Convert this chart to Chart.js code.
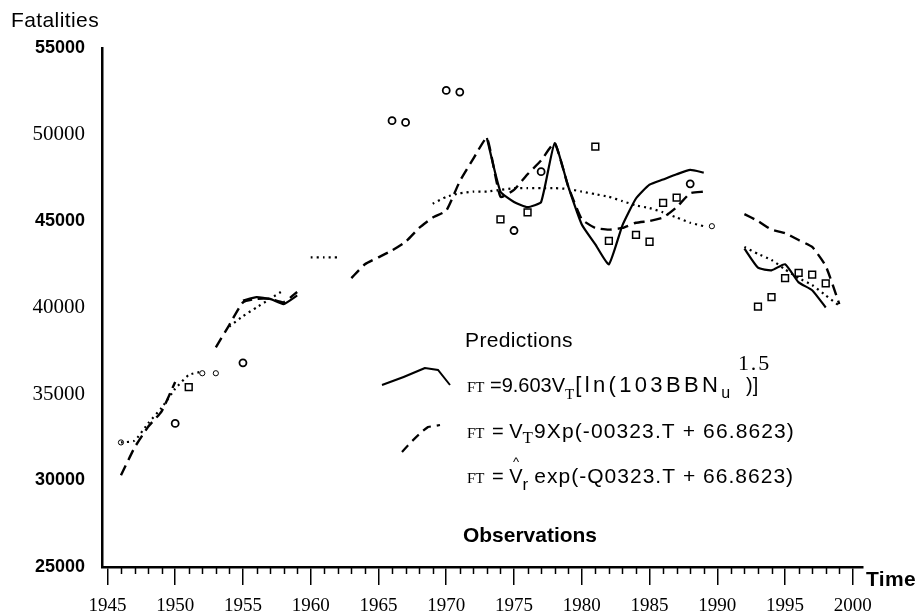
<!DOCTYPE html>
<html>
<head>
<meta charset="utf-8">
<title>Fatalities over time</title>
<script src="https://cdn.jsdelivr.net/npm/chart.js@4.4.0/dist/chart.umd.min.js"></script>
<style>
  html, body { margin: 0; padding: 0; background: #fff; }
  #wrap { width: 919px; height: 613px; }
</style>
</head>
<body>
<div id="wrap"><canvas id="chart" width="919" height="613"></canvas></div>
<script>
// years on the time axis (one slot per year, null = no line drawn there)
const YEARS = [
  1946, 1947, 1948, 1949, 1950, 1951, 1952, 1953, 1954, 1955,
  1956, 1957, 1958, 1959, 1960, 1961, 1962, 1963, 1964, 1965,
  1966, 1967, 1968, 1969, 1970, 1971, 1972, 1973, 1974, 1975,
  1976, 1977, 1978, 1979, 1980, 1981, 1982, 1983, 1984, 1985,
  1986, 1987, 1988, 1989, 1990, 1991, 1992, 1993, 1994, 1995,
  1996, 1997, 1998, 1999, 2000
];

// FT = 9.603 V_T [ln(103BBN_u)]^1.5  (solid)
const PRED_LN = [
  null, null, null, null, null, null, null, null, null, 40400,
  40600, 40500, 40200, 40700, null, null, null, null, null, null,
  null, null, null, null, null, null, null, 49800, 46700, 46100,
  45800, 46100, 49500, 47000, 44800, 43650, 42500, 44750, 46300, 47100,
  47400, 47700, 47950, 47800, null, null, 43400, 42300, 42150, 42500,
  41450, 41000, 40000, null, null
];

// FT = V_T exp(-.00323 T + 66.8623)  (dashed)
const PRED_EXP = [
  30300, 31900, 33100, 34000, 35700, null, null, 37700, 39000, 40300,
  40500, 40500, 40300, 40900, null, null, null, 41700, 42500, 42900,
  43300, 43800, 44600, 45200, 45600, 47300, 48600, 49800, 46400, 46800,
  47700, 48500, 49500, 47000, 45100, 44600, 44500, 44600, 44900, 45000,
  45200, 45800, 46600, 46700, null, null, 45400, 45000, 44500, 44300,
  43900, 43500, 42400, 40200, null
];

// FT = V^_r exp(-.00323 T + 66.8623)  (dotted)
const PRED_HAT = [
  32200, 32300, 33300, 34200, 35300, 36100, 36300, null, 38900, 39500,
  40000, 40500, 41000, null, 42900, 42900, 42900, null, null, null,
  null, null, null, 46000, 46400, 46600, 46700, 46700, 46800, 46900,
  46900, 46900, 46900, 46850, 46700, 46550, 46400, 46150, 45900, 45750,
  45500, 45200, 44900, 44700, null, null, 43500, 43100, 42750, 42200,
  41700, 41300, 40700, 40100, null
];

// observations
const OBS_CIRCLE_YEARS = [1950, 1955, 1966, 1967, 1970, 1971, 1975, 1977, 1988];
const OBS_CIRCLE = [33300, 36800, 50800, 50700, 52550, 52450, 44450, 47850, 47150];
const OBS_SQUARE_YEARS = [1951, 1974, 1976, 1981, 1982, 1984, 1985, 1986, 1987,
  1993, 1994, 1995, 1996, 1997, 1998];
const OBS_SQUARE = [35400, 45100, 45500, 49300, 43850, 44200, 43800, 46050, 46350,
  40050, 40600, 41700, 42000, 41900, 41400];
const OBS_SMALL_YEARS = [1946, 1952, 1953, 1989.6];
const OBS_SMALL = [32200, 36200, 36200, 44700];

// axis ticks
const TICK_YEARS = [1945, 1950, 1955, 1960, 1965, 1970, 1975, 1980, 1985, 1990, 1995, 2000];
const TICK_VALUES = [25000, 30000, 35000, 40000, 45000, 50000, 55000];
const SANS_TICKS = [25000, 30000, 45000, 55000];

const SERIF = 'Liberation Serif';
const SANS = 'Liberation Sans';

const series = (values) => YEARS.map((x, i) => ({ x, y: values[i] }));
const points = (years, values) => years.map((x, i) => ({ x, y: values[i] }));

const predLine = (label, values, dash, width) => ({
  type: 'line',
  label,
  data: series(values),
  borderColor: '#000',
  borderWidth: width,
  borderDash: dash,
  borderCapStyle: 'butt',
  pointRadius: 0,
  tension: 0.15,
  spanGaps: false,
  fill: false
});

const obsSet = (years, values, style, radius, width) => ({
  type: 'scatter',
  label: 'Observations',
  data: points(years, values),
  pointStyle: style,
  pointRadius: radius,
  pointBorderWidth: width,
  pointBorderColor: '#000',
  pointBackgroundColor: '#fff'
});

// draws a text run; if a width is given the run is spread (letter spacing)
// or squeezed to the width it has in the scan. returns the end x
function put(ctx, text, font, x, y, width) {
  ctx.font = font;
  ctx.letterSpacing = '0px';
  const w = ctx.measureText(text).width;
  if (!width) {
    ctx.fillText(text, x, y);
    return x + w;
  }
  if (width >= w) {
    ctx.letterSpacing = ((width - w) / text.length).toFixed(2) + 'px';
    ctx.fillText(text, x, y);
    ctx.letterSpacing = '0px';
  } else {
    ctx.save();
    ctx.translate(x, y);
    ctx.scale(width / w, 1);
    ctx.fillText(text, 0, 0);
    ctx.restore();
  }
  return x + width;
}

const decorations = {
  id: 'decorations',
  afterDraw(chart) {
    const { ctx, scales: { x } } = chart;
    ctx.save();
    ctx.strokeStyle = '#000';
    ctx.fillStyle = '#000';

    // minor year ticks
    ctx.lineWidth = 1.5;
    for (let yr = 1945; yr <= 2000; yr++) {
      if (yr % 5 === 0) continue;
      const px = Math.round(x.getPixelForValue(yr)) + 0.5;
      ctx.beginPath();
      ctx.moveTo(px, x.top);
      ctx.lineTo(px, x.top + 7);
      ctx.stroke();
    }

    ctx.textBaseline = 'alphabetic';
    put(ctx, 'Fatalities', `21px ${SANS}`, 11, 27, 88);
    put(ctx, 'Time', `bold 21px ${SANS}`, 866, 586, 50);

    // legend
    put(ctx, 'Predictions', `21px ${SANS}`, 465, 347, 108);

    ctx.lineWidth = 2;
    ctx.setLineDash([]);
    ctx.beginPath();
    ctx.moveTo(382, 385);
    ctx.quadraticCurveTo(405, 377, 425, 368);
    ctx.lineTo(438, 370);
    ctx.lineTo(450, 385);
    ctx.stroke();

    ctx.lineWidth = 2.2;
    ctx.setLineDash([9, 6]);
    ctx.beginPath();
    ctx.moveTo(402, 452);
    ctx.quadraticCurveTo(418, 434, 428, 427);
    ctx.lineTo(440, 425);
    ctx.stroke();
    ctx.setLineDash([]);

    const small = `15px ${SERIF}`;
    const big = `20px ${SANS}`;
    let cx;

    put(ctx, 'FT', small, 467, 392);
    cx = put(ctx, '=9.603V', big, 490, 392);
    cx = put(ctx, 'T', small, cx, 399);
    cx = put(ctx, '[ln(103BBN', `22px ${SANS}`, cx + 1, 392, 146);
    put(ctx, 'u', `16px ${SANS}`, cx, 398);
    put(ctx, ')]', big, 746, 392);
    put(ctx, '1.5', `22px ${SERIF}`, 738, 370, 33);

    put(ctx, 'FT', small, 467, 438);
    cx = put(ctx, '= V', big, 492, 438);
    cx = put(ctx, 'T', `17px ${SERIF}`, cx, 443);
    put(ctx, '9Xp(-00323.T + 66.8623)', `21px ${SANS}`, cx + 1, 438, 794 - cx);

    put(ctx, 'FT', small, 467, 483);
    cx = put(ctx, '= V', big, 492, 483);
    cx = put(ctx, 'r', `17px ${SANS}`, cx, 490);
    put(ctx, 'exp(-Q0323.T + 66.8623)', `21px ${SANS}`, cx + 6, 483, 788 - cx);
    put(ctx, '^', `13px ${SANS}`, 513, 466);

    put(ctx, 'Observations', `bold 21px ${SANS}`, 463, 542, 134);
    ctx.restore();
  }
};

new Chart(document.getElementById('chart'), {
  data: {
    datasets: [
      predLine('FT = 9.603 V_T [ln(103BBN_u)]^1.5', PRED_LN, [], 2.2),
      predLine('FT = V_T exp(-.00323 T + 66.8623)', PRED_EXP, [11, 6], 2.4),
      predLine('FT = V^_r exp(-.00323 T + 66.8623)', PRED_HAT, [2, 4], 2.2),
      obsSet(OBS_CIRCLE_YEARS, OBS_CIRCLE, 'circle', 3.5, 1.8),
      obsSet(OBS_SQUARE_YEARS, OBS_SQUARE, 'rect', 4.8, 1.5),
      obsSet(OBS_SMALL_YEARS, OBS_SMALL, 'circle', 2.6, 1)
    ]
  },
  options: {
    responsive: false,
    animation: false,
    layout: { padding: { top: 48, right: 56, left: 0, bottom: 0 } },
    plugins: {
      legend: { display: false },
      tooltip: { enabled: false }
    },
    scales: {
      x: {
        type: 'linear',
        min: 1944.6,
        max: 2000.75,
        afterBuildTicks: (s) => { s.ticks = TICK_YEARS.map(value => ({ value })); },
        afterFit: (s) => { s.height = 46; },
        grid: {
          drawOnChartArea: false,
          drawTicks: true,
          tickLength: 18,
          color: '#000',
          lineWidth: 1.5
        },
        border: { display: true, color: '#000', width: 2.5 },
        ticks: {
          color: '#000',
          font: { family: SERIF, size: 19 },
          padding: 10,
          maxRotation: 0,
          autoSkip: false,
          callback: (v) => String(v)
        }
      },
      y: {
        type: 'linear',
        min: 25000,
        max: 55000,
        afterBuildTicks: (s) => { s.ticks = TICK_VALUES.map(value => ({ value })); },
        afterFit: (s) => { s.width = 102; },
        grid: { display: false, drawTicks: false },
        border: { display: true, color: '#000', width: 2.5 },
        ticks: {
          color: '#000',
          padding: 17,
          font: (c) => SANS_TICKS.includes(c.tick && c.tick.value)
            ? { family: SANS, size: 18, weight: 'bold' }
            : { family: SERIF, size: 21 },
          callback: (v) => String(v)
        }
      }
    }
  },
  plugins: [decorations]
});
</script>
</body>
</html>
